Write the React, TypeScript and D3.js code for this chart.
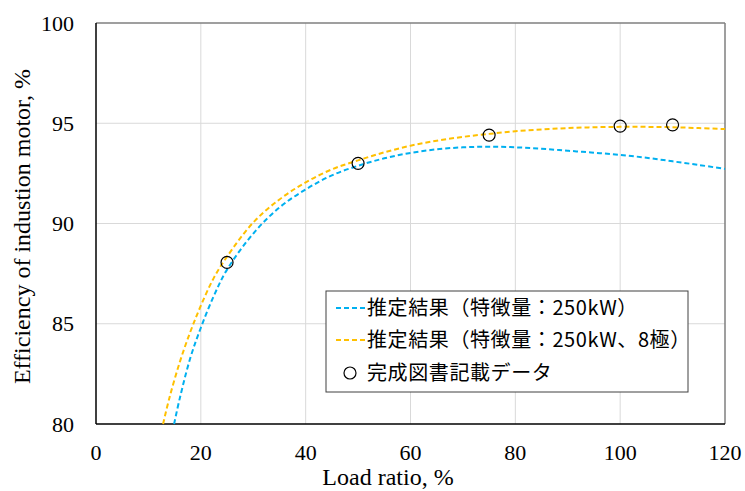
import React from 'react';
import * as d3 from 'd3';

// values
const estLoad = [14.9, 16, 18, 20, 22.5, 25, 30, 35, 40, 45, 50, 55, 60, 65, 70, 75, 80, 85, 90, 95, 100, 105, 110, 115, 120];
const estEff = [80.0, 81.3, 83.3, 84.8, 86.4, 87.7, 89.5, 90.8, 91.7, 92.4, 92.88, 93.25, 93.52, 93.7, 93.8, 93.83, 93.8, 93.73, 93.63, 93.53, 93.42, 93.28, 93.1, 92.92, 92.72];

const est8Load = [12.8, 14, 16, 18, 20, 22.5, 25, 30, 35, 40, 45, 50, 55, 60, 65, 70, 75, 80, 85, 90, 95, 100, 105, 110, 115, 120];
const est8Eff = [80.0, 81.3, 83.1, 84.6, 85.9, 87.3, 88.35, 90.05, 91.2, 92.05, 92.7, 93.15, 93.55, 93.88, 94.13, 94.32, 94.47, 94.6, 94.69, 94.76, 94.8, 94.82, 94.82, 94.8, 94.76, 94.71];

const docLoad = [25, 50, 75, 100, 110];
const docEff = [88.06, 93.0, 94.41, 94.86, 94.92];

const xTicks = [0, 20, 40, 60, 80, 100, 120];
const yTicks = [80, 85, 90, 95, 100];

const legendLabels = ['推定結果（特徴量：250kW）', '推定結果（特徴量：250kW、8極）', '完成図書記載データ'];

const BLUE = '#00B0F0';
const ORANGE = '#FFC000';

const App = () => {
  const margin = { top: 23, right: 20, bottom: 67, left: 96 };
  const width = 745;
  const height = 491;

  const x = d3.scaleLinear().domain([0, 120]).range([margin.left, width - margin.right]);
  const y = d3.scaleLinear().domain([80, 100]).range([height - margin.bottom, margin.top]);

  const line = d3.line<[number, number]>()
    .x((d) => x(d[0]))
    .y((d) => y(d[1]))
    .curve(d3.curveCatmullRom.alpha(0.5));

  const estPath = line(estLoad.map((v, i) => [v, estEff[i]]));
  const est8Path = line(est8Load.map((v, i) => [v, est8Eff[i]]));

  const serif = '"Liberation Serif", "Times New Roman", serif';
  const sans = '"Noto Sans CJK JP", "Noto Sans", sans-serif';

  const x0 = x(0), x1 = x(120), y0 = y(80), y1 = y(100);

  // legend box
  const lg = { x: 326, y: 291, w: 362, h: 101 };
  const rows = [308, 340, 373];

  return (
    <svg width={width} height={height} style={{ position: 'absolute', left: 0, top: 0 }}>
      <rect x={0} y={0} width={width} height={height} fill="#fff" />

      {/* grid */}
      {xTicks.slice(1, -1).map((t) => (
        <line key={'gx' + t} x1={x(t)} x2={x(t)} y1={y1} y2={y0} stroke="#d9d9d9" strokeWidth={1} />
      ))}
      {yTicks.slice(1, -1).map((t) => (
        <line key={'gy' + t} x1={x0} x2={x1} y1={y(t)} y2={y(t)} stroke="#d9d9d9" strokeWidth={1} />
      ))}

      {/* frame */}
      <line x1={x0} x2={x1} y1={y1} y2={y1} stroke="#7f7f7f" strokeWidth={1.5} />
      <line x1={x1} x2={x1} y1={y1} y2={y0} stroke="#7f7f7f" strokeWidth={1.5} />
      <line x1={x0} x2={x0} y1={y1} y2={y0} stroke="#000" strokeWidth={1.5} />
      <line x1={x0} x2={x1} y1={y0} y2={y0} stroke="#000" strokeWidth={1.5} />

      {/* curves */}
      <path d={estPath || ''} fill="none" stroke={BLUE} strokeWidth={2} strokeDasharray="5,3" />
      <path d={est8Path || ''} fill="none" stroke={ORANGE} strokeWidth={2} strokeDasharray="5,3" />

      {/* document data */}
      {docLoad.map((v, i) => (
        <circle key={'p' + i} cx={x(v)} cy={y(docEff[i])} r={6} fill="none" stroke="#000" strokeWidth={1.2} />
      ))}

      {/* tick labels */}
      {xTicks.map((t) => (
        <text key={'xt' + t} x={x(t)} y={y0 + 36} textAnchor="middle" fontFamily={serif} fontSize={22}>{t}</text>
      ))}
      {yTicks.map((t) => (
        <text key={'yt' + t} x={74} y={y(t) + 7.5} textAnchor="end" fontFamily={serif} fontSize={22}>{t}</text>
      ))}

      {/* axis titles */}
      <text x={388} y={485} textAnchor="middle" fontFamily={serif} fontSize={24}>Load ratio, %</text>
      <text transform={`translate(30,${(y0 + y1) / 2 + 3}) rotate(-90)`} textAnchor="middle" fontFamily={serif} fontSize={24}>
        Efficiency of industion motor, %
      </text>

      {/* legend */}
      <rect x={lg.x} y={lg.y} width={lg.w} height={lg.h} fill="#fff" stroke="#404040" strokeWidth={1} />
      <line x1={336} x2={365} y1={rows[0]} y2={rows[0]} stroke={BLUE} strokeWidth={2} strokeDasharray="5,3" />
      <line x1={336} x2={365} y1={rows[1]} y2={rows[1]} stroke={ORANGE} strokeWidth={2} strokeDasharray="5,3" />
      <circle cx={350} cy={rows[2]} r={6} fill="none" stroke="#000" strokeWidth={1.2} />
      {legendLabels.map((s, i) => (
        <text key={'lg' + i} x={367} y={rows[i] + 7} fontFamily={sans} fontSize={20} letterSpacing={0.6}>{s}</text>
      ))}
    </svg>
  );
};

export default App;
